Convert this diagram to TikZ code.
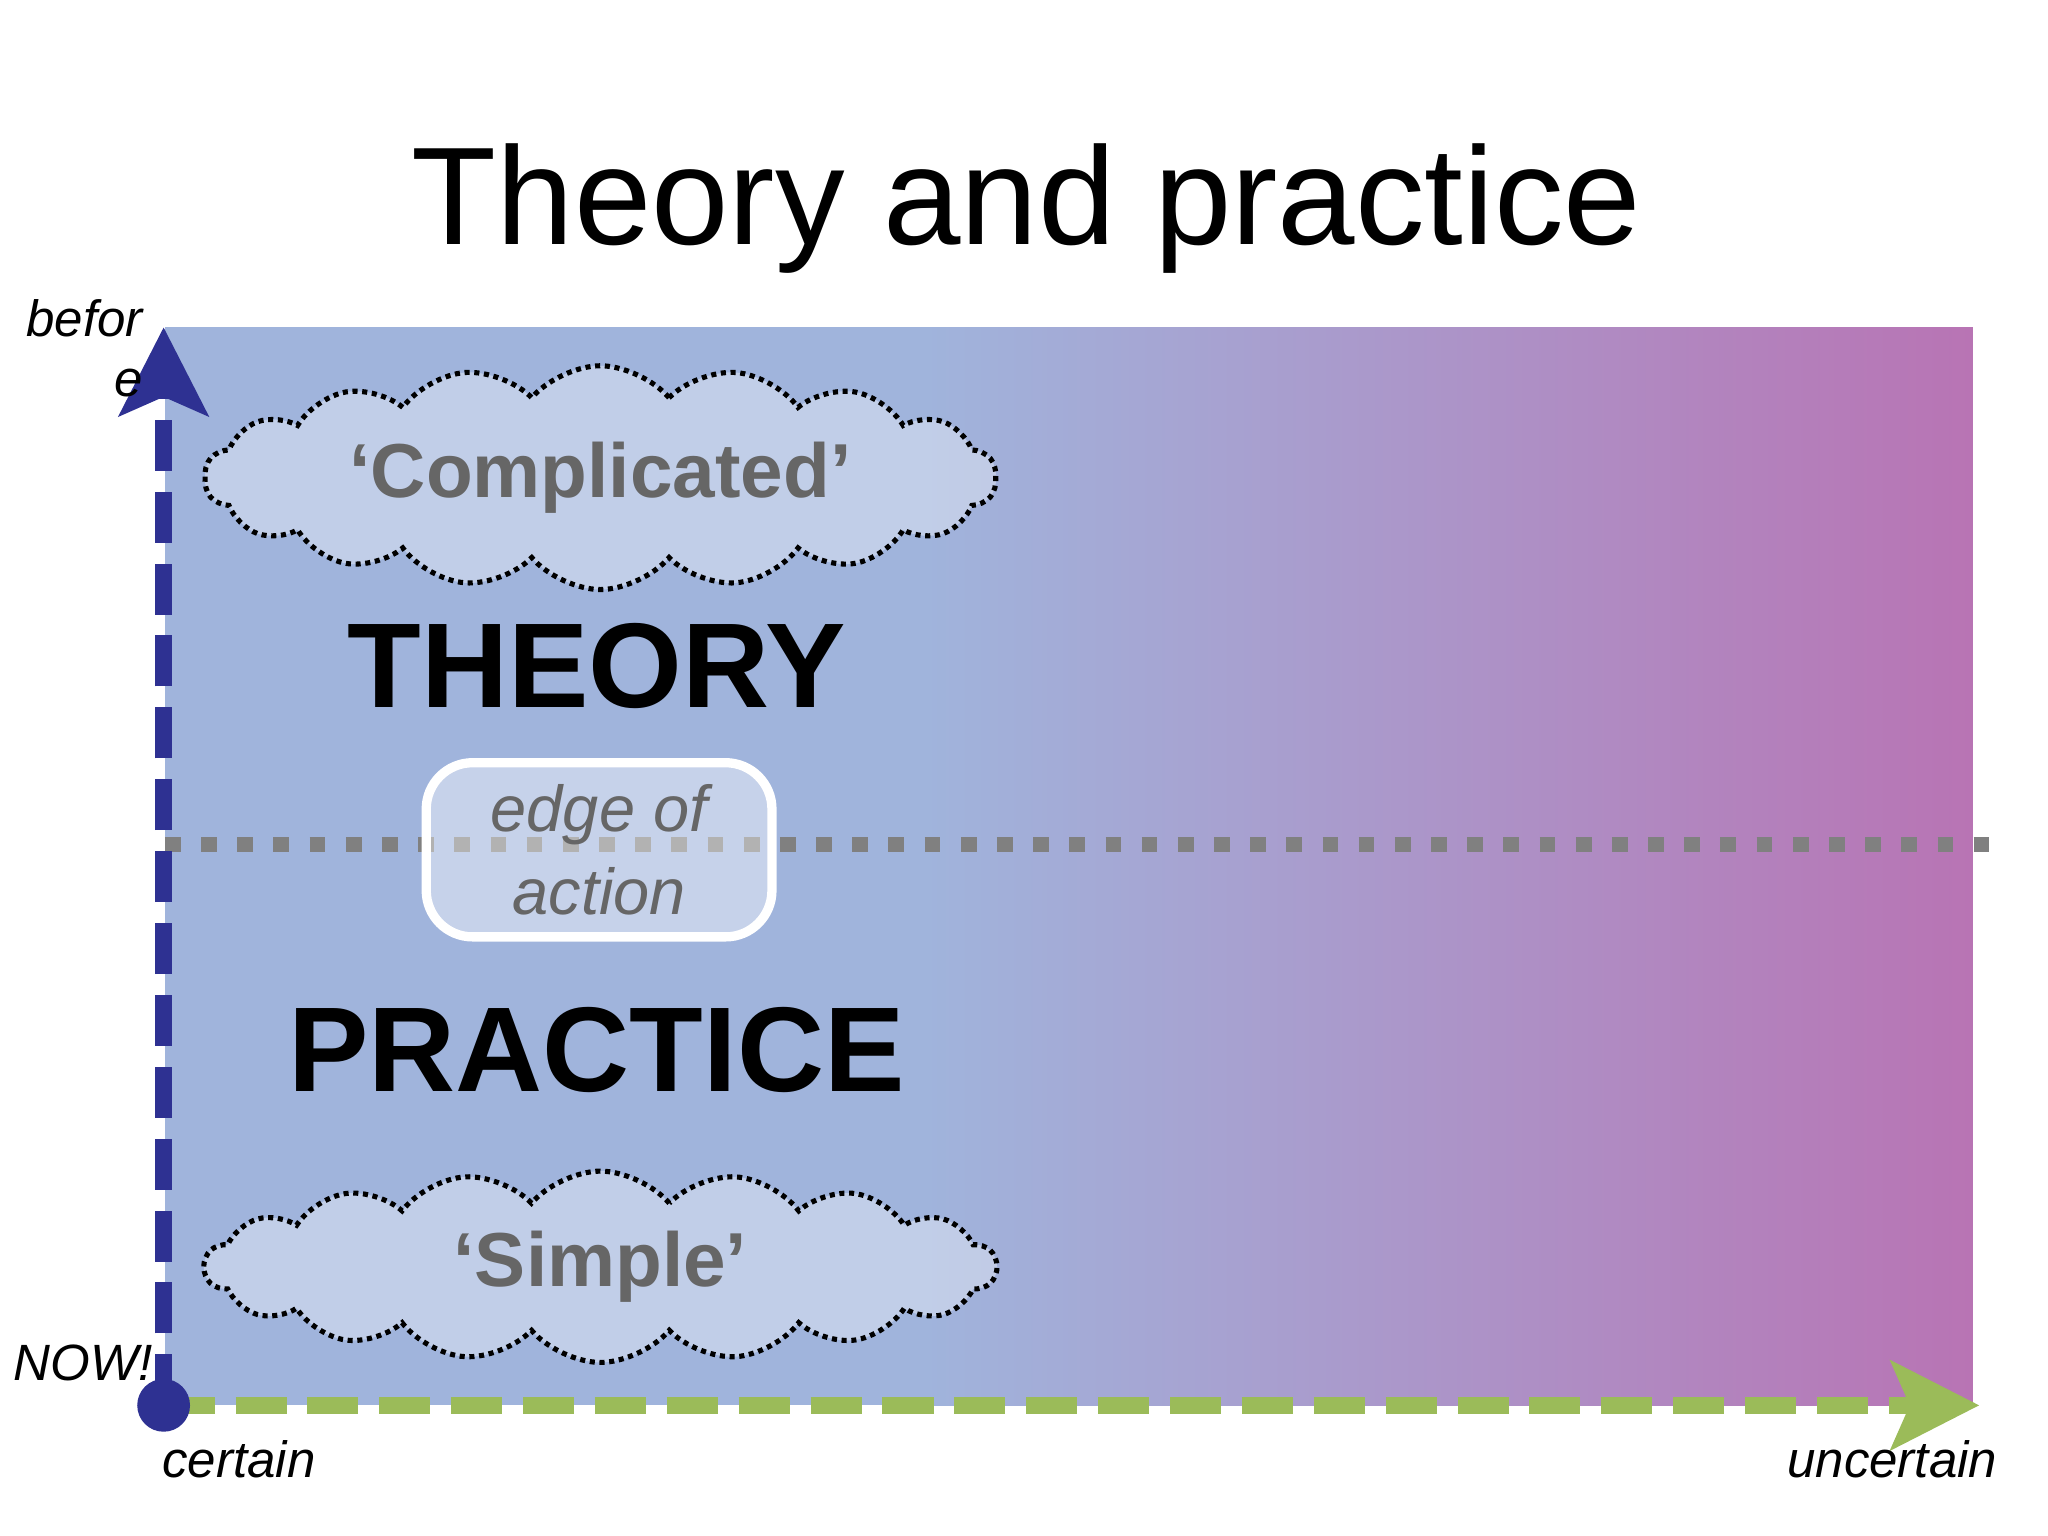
\documentclass[tikz,border=0pt]{standalone}
\usepackage{fontspec}
\setmainfont{Liberation Sans}
\usetikzlibrary{shapes.symbols,arrows.meta}
\definecolor{lblue}{HTML}{A0B4DC}
\definecolor{lmag}{HTML}{B874B4}
\definecolor{navy}{HTML}{2E3192}
\definecolor{lgreen}{HTML}{9BBB59}
\tikzset{
 cloudbox/.style={cloud, cloud puffs=18, cloud puff arc=100, aspect=4.2, inner sep=0pt, draw=black, densely dotted, line width=1.1pt, fill=white, fill opacity=0.35, text opacity=1, minimum width=6.0cm, minimum height=1.45cm, font=\bfseries\fontsize{16.5}{18}\selectfont, text=black!60},
 big/.style={font=\bfseries\fontsize{26}{28}\selectfont},
 axl/.style={font=\itshape\fontsize{11}{13}\selectfont}
}
\begin{document}
\begin{tikzpicture}[x=1cm,y=1cm]
\useasboundingbox (0,0) rectangle (15.52,11.64);
\fill[lblue] (1.25,0.99) rectangle (7.0,9.16);
\shade[left color=lblue, right color=lmag] (7.0,0.99) rectangle (14.95,9.16);
\node (tit) at (7.78,10.06) {\fontsize{30}{34}\selectfont Theory and practice};
\draw[gray, line width=3.4pt, dash pattern=on 3.4pt off 4.4pt] (1.25,5.24) -- (15.12,5.24);
\node[draw=white, line width=2pt, rounded corners=10pt, fill=white, fill opacity=0.4, text opacity=1, minimum width=2.62cm, minimum height=1.32cm, align=center, text=black!60, font=\itshape\fontsize{14}{18}\selectfont] (edge) at (4.54,5.2) {edge of\\action};
\node[cloudbox] (cmp) at (4.55,8.02) {‘Complicated’};
\node[cloudbox] (smp) at (4.55,2.04) {‘Simple’};
\node[big] (th) at (4.52,6.59) {THEORY};
\node[big] (pr) at (4.52,3.68) {PRACTICE};
\coordinate (o) at (1.24,0.99);
\coordinate (top) at (1.24,9.16);
\coordinate (right) at (15.0,0.99);
\draw[lgreen, line width=3.6pt, dash pattern=on 11pt off 4.5pt, -{Stealth[width=19pt,length=19pt,inset=4pt]}] (o) -- (right);
\draw[navy, line width=3.6pt, dash pattern=on 11pt off 4.5pt, -{Stealth[width=19pt,length=19pt,inset=4pt]}] (o) -- (top);
\fill[navy] (o) circle (0.2);
\node[axl, align=right] (bef) at (0.64,9.0) {befor\\e};
\node[axl] (now) at (0.63,1.31) {NOW!};
\node[axl] (cer) at (1.81,0.58) {certain};
\node[axl] (unc) at (14.34,0.58) {uncertain};
\end{tikzpicture}
\end{document}
